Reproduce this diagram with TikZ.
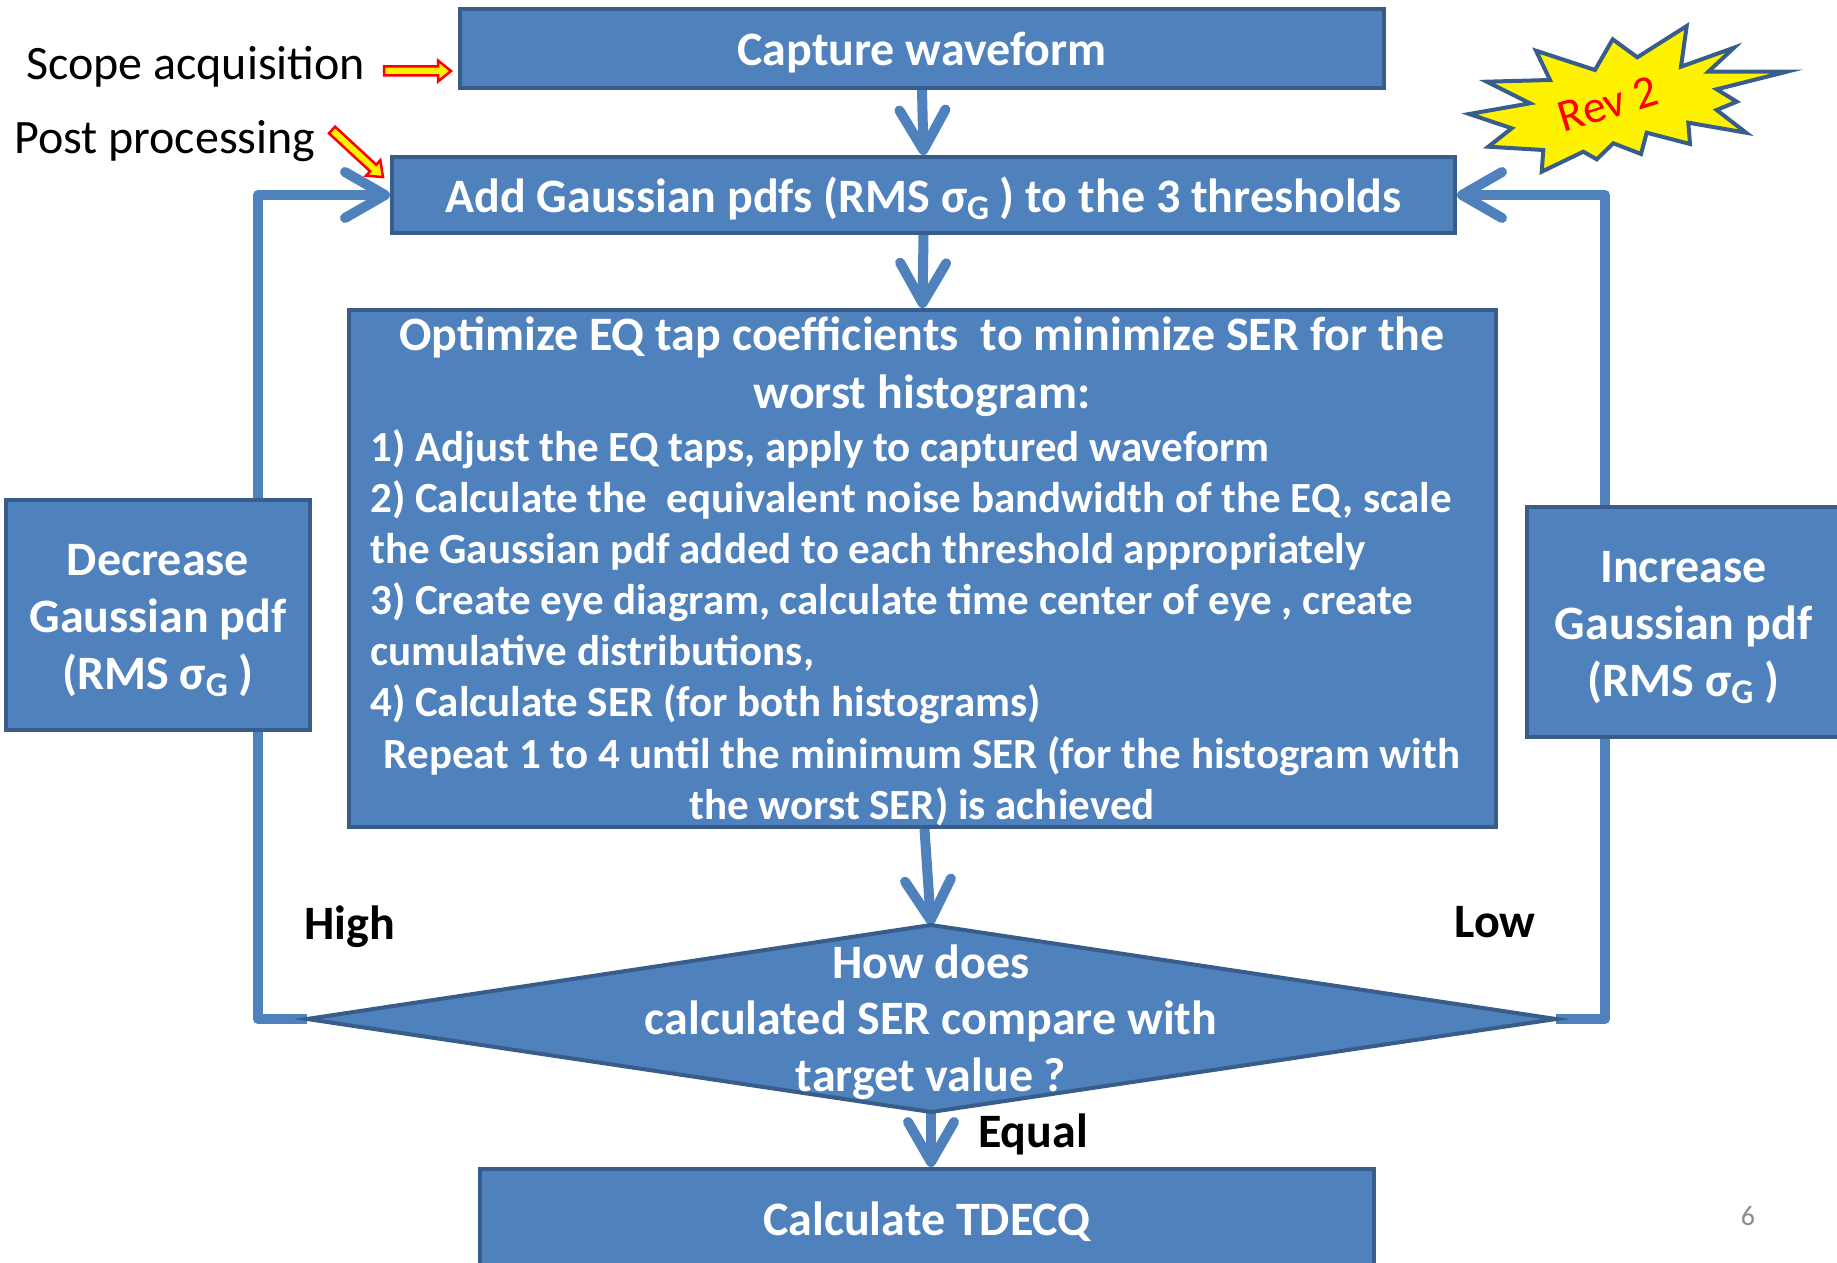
\documentclass[tikz,border=0pt]{standalone}
\usepackage{fontspec}
\setmainfont{Carlito}
\usetikzlibrary{arrows.meta}
\pgfdeclarelayer{background}
\pgfsetlayers{background,main}
\definecolor{boxblue}{HTML}{4F81BD}
\definecolor{boxline}{HTML}{385D8A}
\definecolor{pagegrey}{HTML}{8C8C8C}
\newcommand{\sigG}{σ\raisebox{-0.3ex}{\scalebox{0.72}{G}}}
\begin{document}
\begin{tikzpicture}[x=1pt,y=-1pt,
  box/.style={draw=boxline, fill=boxblue, line width=4pt, inner sep=0pt, text=white, align=center},
  conn/.style={draw=boxblue, line width=10pt, line join=round, -{Straight Barb[length=40pt,width=46pt,round]}},
  boxtxt/.style={text=white, inner sep=0pt, font=\bfseries\fontsize{43}{51}\selectfont},
  bigtxt/.style={text=white, inner sep=0pt, font=\bfseries\fontsize{48}{57}\selectfont},
  lbl/.style={text=black, inner sep=0pt, font=\bfseries\fontsize{48}{56}\selectfont},
  side/.style={text=black, inner sep=0pt, font=\fontsize{48}{56}\selectfont},
  blockarrow/.style={draw=red, fill=yellow, line width=2.5pt, line join=miter}]
\useasboundingbox (0,0) rectangle (1837,1263);
% boxes
\node[box, minimum width=924pt, minimum height=79pt] (cap) at (922,48.5) {};
\node[bigtxt, anchor=mid] (captxt) at (922,63) {Capture waveform};
\node[box, minimum width=1063pt, minimum height=76pt] (add) at (923.5,195) {};
\node[bigtxt, anchor=mid] (addtxt) at (923.5,210) {Add Gaussian pdfs (RMS \sigG\ ) to the 3 thresholds};
\node[box, minimum width=1147pt, minimum height=517pt] (opt) at (922.5,568.5) {};
\node[box, minimum width=304pt, minimum height=230pt] (dec) at (158,615) {};
\node[bigtxt, align=center, anchor=center] (dectxt) at (158,621) {Decrease\\Gaussian pdf\\(RMS \sigG\ )};
\node[box, minimum width=313pt, minimum height=230pt] (inc) at (1683.5,622) {};
\node[bigtxt, align=center, anchor=center] (inctxt) at (1683.5,628) {Increase\\Gaussian pdf\\(RMS \sigG\ )};
\node[box, minimum width=894pt, minimum height=130pt] (tdq) at (927,1234) {};
\node[bigtxt, anchor=mid] (tdqtxt) at (927,1233) {Calculate TDECQ};
% diamond
\coordinate (dT) at (931,925);
\coordinate (dR) at (1556,1019);
\coordinate (dB) at (931,1112);
\coordinate (dL) at (307,1019);
\draw[draw=boxline, fill=boxblue, line width=4pt, line join=miter] (dT) -- (dR) -- (dB) -- (dL) -- cycle;
\node[bigtxt, anchor=mid] (q1) at (931,976) {How does};
\node[bigtxt, anchor=mid] (q2) at (931,1032) {calculated SER compare with};
\node[bigtxt, anchor=mid] (q3) at (931,1089) {target value ?};
% optimize text
\node[bigtxt, anchor=mid] (o1) at (922,348) {Optimize EQ tap coefficients \ to minimize SER for the};
\node[bigtxt, anchor=mid] (o2) at (922,406) {worst histogram:};
\node[boxtxt, anchor=mid west] (o3) at (370,459) {1) Adjust the EQ taps, apply to captured waveform};
\node[boxtxt, anchor=mid west] (o4) at (370,510) {2) Calculate the \ equivalent noise bandwidth of the EQ, scale};
\node[boxtxt, anchor=mid west] (o5) at (370,561) {the Gaussian pdf added to each threshold appropriately};
\node[boxtxt, anchor=mid west] (o6) at (370,612) {3) Create eye diagram, calculate time center of eye , create};
\node[boxtxt, anchor=mid west] (o7) at (370,663) {cumulative distributions,};
\node[boxtxt, anchor=mid west] (o8) at (370,714) {4) Calculate SER (for both histograms)};
\node[boxtxt, anchor=mid] (o9) at (922,766) {Repeat 1 to 4 until the minimum SER (for the histogram with};
\node[boxtxt, anchor=mid] (o10) at (922,817) {the worst SER) is achieved};
% connectors (behind the boxes)
\begin{pgfonlayer}{background}
\draw[conn] (cap.south) -- (add.north);
\draw[conn] (add.south) -- (opt.north);
\draw[conn] ([xshift=2pt]opt.south) -- (dT);
\draw[conn] (dB) -- (tdq.north -| dB);
\draw[conn] (dL) -- ++(-49,0) |- (add.west);
\draw[conn] (dR) -- ++(49,0) |- (add.east);
\end{pgfonlayer}
% labels
\node[lbl, anchor=mid] (high) at (350,937) {High};
\node[lbl, anchor=mid] (low) at (1495,935) {Low};
\node[lbl, anchor=mid] (equal) at (1033,1145) {Equal};
\node[side, anchor=mid west] (scope) at (26,77) {Scope acquisition};
\node[side, anchor=mid west] (post) at (14,151) {Post processing};
\node[text=pagegrey, inner sep=0pt, font=\fontsize{28}{32}\selectfont] (pg) at (1748,1216) {6};
% yellow block arrows
\draw[blockarrow] (384,66.5) -- (438,66.5) -- (438,60.5) -- (451,71) -- (438,81.5) -- (438,75.5) -- (384,75.5) -- cycle;
\begin{scope}[shift={(332,130)}, rotate=-42.7]
\draw[blockarrow] (0,-4.5) -- (56,-4.5) -- (56,-10.5) -- (69.4,0) -- (56,10.5) -- (56,4.5) -- (0,4.5) -- cycle;
\end{scope}
% Rev 2 star
\draw[draw=boxline, fill=yellow, line width=4pt, line join=miter]
 (1486.7,81.7) -- (1550,80) -- (1536,50.7) -- (1595,70) -- (1612.7,39.3) -- (1637.3,57.3)
 -- (1686.7,26) -- (1681,66.7) -- (1734,47.7) -- (1708.3,71.7) -- (1786.7,71.7) -- (1716.7,89.3)
 -- (1736.7,101.7) -- (1716.7,110) -- (1746,132.7) -- (1688.3,122.7) -- (1690,144) -- (1646.7,132.7)
 -- (1641,154) -- (1613.3,143.3) -- (1596.7,159.3) -- (1583.3,151.7) -- (1541.7,171.7) -- (1543.3,150)
 -- (1488.3,146.7) -- (1511.7,128.3) -- (1469.3,114) -- (1530,103.3) -- cycle;
\node[text=red, inner sep=0pt, rotate=17, font=\fontsize{46}{54}\selectfont] (rev) at (1608,104) {Rev 2};
\end{tikzpicture}
\end{document}
